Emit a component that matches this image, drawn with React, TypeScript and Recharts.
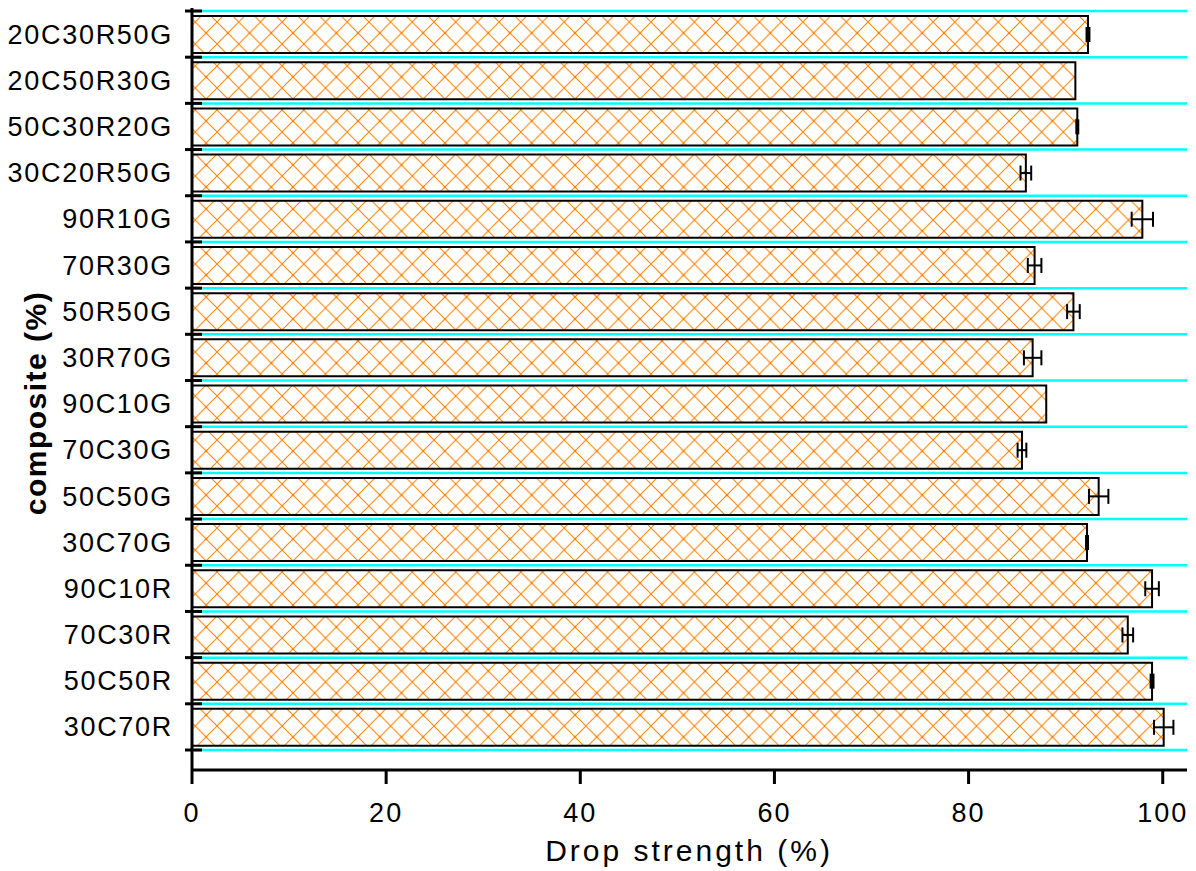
import React from "react"
import { BarChart, Bar, XAxis, YAxis, CartesianGrid, ErrorBar, Label } from "recharts"

const composites = [
  "20C30R50G",
  "20C50R30G",
  "50C30R20G",
  "30C20R50G",
  "90R10G",
  "70R30G",
  "50R50G",
  "30R70G",
  "90C10G",
  "70C30G",
  "50C50G",
  "30C70G",
  "90C10R",
  "70C30R",
  "50C50R",
  "30C70R",
]
const dropStrength = [92.3, 91.0, 91.2, 85.9, 97.9, 86.8, 90.8, 86.6, 88.0, 85.5, 93.4, 92.2, 98.9, 96.4, 98.9, 100.1]
const dropError = [0.15, 0, 0.1, 0.55, 1.1, 0.7, 0.65, 0.9, 0, 0.45, 1.0, 0.1, 0.7, 0.55, 0.15, 1.0]

const majorTicks = [0, 20, 40, 60, 80, 100]
const minorTicks = [4, 8, 12, 16, 24, 28, 32, 36, 44, 48, 52, 56, 64, 68, 72, 76, 84, 88, 92, 96]

const data = composites.map((name, i) => ({
  name,
  value: dropStrength[i],
  err: dropError[i],
}))

const FONT = "'Liberation Sans', Arial, sans-serif"

// grid lines sit on the band edges of the category axis, not on its centres
const bandEdges = (props: any) => {
  const yAxis = props && props.yAxis
  if (!yAxis || !yAxis.scale) return []
  const s = yAxis.scale
  const mapFn =
    typeof s === "function" ? (v: string) => s(v) : typeof s.map === "function" ? (v: string) => s.map(v) : null
  const bw = typeof s.bandwidth === "function" ? s.bandwidth() : undefined
  if (mapFn && bw) {
    const edges = composites.map((c) => mapFn(c))
    edges.push(mapFn(composites[composites.length - 1]) + bw)
    if (edges.every((e) => typeof e === "number" && !isNaN(e))) return edges
  }
  if (typeof s.range === "function") {
    const [a, b] = s.range()
    const n = composites.length
    return Array.from({ length: n + 1 }, (_, i) => a + ((b - a) * i) / n)
  }
  return []
}

// cyan grid line plus an "in & out" black tick on the y axis
const EdgeLine = (props: any) => {
  const { x1, x2, y1, index } = props
  return (
    <g key={`edge-${index}-${y1}`}>
      <line x1={x1} x2={x2} y1={y1} y2={y1} stroke="#00ffff" strokeWidth={2.5} />
      <line x1={x1 - 7} x2={x1 + 10} y1={y1} y2={y1} stroke="#000" strokeWidth={3} />
    </g>
  )
}

export default function App() {
  return (
    <div style={{ position: "absolute", left: 0, top: 0, background: "#fff" }}>
      <BarChart
        width={1196}
        height={871}
        data={data}
        layout="vertical"
        margin={{ top: 8, right: 9, left: 0, bottom: 6 }}
        style={{ fontFamily: FONT }}
      >
        <defs>
          <pattern id="hatch" patternUnits="userSpaceOnUse" width={21.7} height={22}>
            <path d="M0,0 L21.7,22 M21.7,0 L0,22" stroke="#ff8000" strokeWidth={1} />
            <circle cx={10.85} cy={11} r={1.3} fill="#ff8000" />
          </pattern>
        </defs>
        <XAxis
          xAxisId="minor"
          type="number"
          domain={[0, 102.5]}
          ticks={minorTicks}
          height={1}
          axisLine={false}
          tick={false}
          tickSize={7}
          tickLine={{ stroke: "#000", strokeWidth: 3 }}
        />
        <XAxis
          xAxisId="main"
          type="number"
          domain={[0, 102.5]}
          ticks={majorTicks}
          height={94}
          tickSize={14}
          tickMargin={19}
          axisLine={{ stroke: "#000", strokeWidth: 3 }}
          tickLine={{ stroke: "#000", strokeWidth: 3 }}
          tick={{ fill: "#000", fontSize: 27, letterSpacing: 2, fontFamily: FONT }}
        >
          <Label
            content={() => (
              <text x={689} y={861} textAnchor="middle" fontSize={30} letterSpacing={3} fill="#000" fontFamily={FONT}>
                Drop strength (%)
              </text>
            )}
          />
        </XAxis>
        <YAxis
          yAxisId="cat"
          type="category"
          dataKey="name"
          width={192}
          padding={{ top: 3, bottom: 20 }}
          tickSize={7}
          tickMargin={12}
          tickLine={false}
          axisLine={{ stroke: "#000", strokeWidth: 3 }}
          tick={{ fill: "#000", fontSize: 27, letterSpacing: 1.7, fontFamily: FONT }}
        >
          <Label
            content={() => (
              <text
                x={35}
                y={403}
                transform="rotate(-90 35 403)"
                textAnchor="middle"
                dominantBaseline="central"
                fontSize={30}
                fontWeight="bold"
                letterSpacing={1.5}
                fill="#000"
                fontFamily={FONT}
              >
                composite (%)
              </text>
            )}
          />
        </YAxis>
        <CartesianGrid
          yAxisId="cat"
          xAxisId="main"
          vertical={false}
          horizontal={EdgeLine}
          horizontalCoordinatesGenerator={bandEdges}
        />
        <Bar
          dataKey="value"
          xAxisId="main"
          yAxisId="cat"
          barSize={37}
          fill="url(#hatch)"
          stroke="#000"
          strokeWidth={2}
          isAnimationActive={false}
        >
          <ErrorBar dataKey="err" direction="x" width={7.5} stroke="#000" strokeWidth={2} isAnimationActive={false} />
        </Bar>
      </BarChart>
    </div>
  )
}
